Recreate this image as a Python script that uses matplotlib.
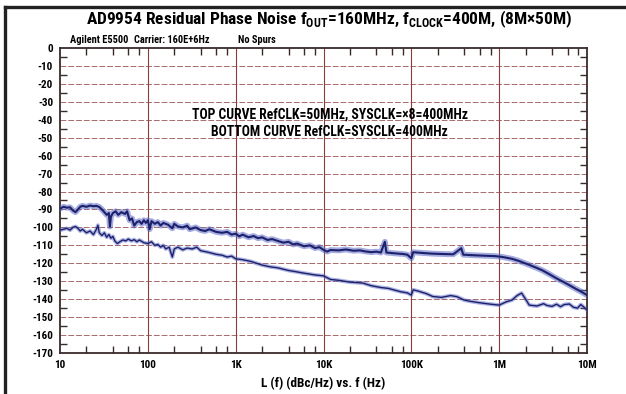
import matplotlib
matplotlib.use("Agg")
import matplotlib.pyplot as plt
from matplotlib.lines import Line2D
from matplotlib.ticker import FixedLocator, NullFormatter
from matplotlib import font_manager

# ---------------- data ----------------
top_freq = [10, 11, 12, 13, 14, 15, 16, 17, 18, 20, 22, 24, 26, 28, 30, 32, 34, 36, 37, 38,
            40, 43, 46, 50, 55, 58, 62, 66, 70, 75, 80, 85, 90, 95, 100, 105, 110, 120, 130,
            140, 150, 170, 190, 200, 220, 250, 280, 300, 350, 400, 450, 500, 600, 700, 800,
            900, 1000, 1100, 1200, 1400, 1600, 1800, 2000, 2300, 2600, 3000, 3500, 4000,
            4500, 5000, 6000, 7000, 8000, 9000, 10000, 11000, 12000, 15000, 18000, 22000,
            26000, 30000, 35000, 40000, 45000, 50000, 52000, 60000, 70000, 80000, 90000,
            100000, 105000, 130000, 170000, 220000, 300000, 370000, 390000, 500000, 700000,
            900000, 1100000, 1400000, 1700000, 2100000, 2600000, 3100000, 3700000, 4500000,
            5300000, 6300000, 7500000, 8500000, 10000000]
top_db = [-89.5, -88.5, -89, -88.8, -90.5, -91.5, -90, -88.5, -88, -88.5, -87.8, -88.2, -88,
          -88.6, -90, -91.5, -93, -92, -99.5, -94, -92, -91, -93, -91.5, -92.5, -91, -96, -95,
          -99, -97, -96.5, -98, -96, -97.5, -96, -101, -96.5, -98, -97, -99, -97.5, -98.5,
          -100.5, -98, -99.5, -100, -99, -101, -100, -101.5, -102, -101, -102.5, -103, -102.5,
          -104, -103.5, -105, -104, -105.5, -104.8, -106, -105.5, -107, -106.5, -107.5, -108.5,
          -108, -109.5, -109, -110.5, -110, -111.5, -111, -112.5, -113.5, -112.6, -112.8,
          -112.3, -113, -112.8, -113.4, -113.8, -113.5, -114, -108, -114, -114.3, -114.6,
          -114.8, -115.2, -117.2, -113.8, -114.2, -114.6, -114.8, -115, -111.6, -115.2, -115.5,
          -115.8, -116, -116.5, -117.5, -118.8, -120.5, -122.3, -123.9, -126, -128.4, -130.2,
          -132.2, -134.3, -135.7, -137.7]

bot_freq = [10, 11, 12, 13, 14, 15, 16, 17, 18, 20, 22, 24, 26, 27, 28, 30, 32, 34, 36, 38,
            40, 42, 45, 48, 52, 56, 60, 65, 70, 75, 80, 90, 100, 110, 120, 130, 140, 150, 160,
            175, 190, 200, 220, 250, 280, 320, 360, 400, 450, 500, 600, 700, 800, 900, 1000,
            1200, 1500, 2000, 2500, 3000, 4000, 5000, 6000, 8000, 10000, 12000, 15000, 20000,
            28000, 35000, 45000, 55000, 65000, 75000, 90000, 100000, 105000, 120000, 150000,
            175000, 220000, 280000, 330000, 400000, 470000, 600000, 800000, 1000000, 1200000,
            1400000, 1600000, 1800000, 2000000, 2200000, 2700000, 3200000, 3500000, 4000000,
            4500000, 5000000, 5500000, 6300000, 7000000, 7800000, 8500000, 9000000, 10000000]
bot_db = [-101.5, -101, -100.5, -101.5, -100, -99.5, -100.5, -102, -101, -103, -102, -104,
          -101, -98.8, -103, -104.5, -103, -105.5, -104, -106, -105, -107.5, -109, -108, -107,
          -107.5, -106.5, -107.5, -106.8, -108, -107, -108.5, -109, -108, -110, -109.5, -111,
          -110, -112, -111, -116.5, -112, -111, -112.5, -111.5, -112, -111, -113, -113.5, -114,
          -115, -115.5, -116.5, -116, -117.5, -118, -119, -121, -122, -122.5, -124, -124.8,
          -125.5, -126.5, -127, -129, -129.5, -130.5, -131, -132.5, -133.5, -134, -135,
          -135.8, -136.5, -137.7, -134.8, -135.5, -137, -138.5, -139, -138, -138.6, -140.5,
          -141.2, -142, -142.8, -143.3, -141.5, -140.5, -138, -136.6, -140, -143.3, -143.8,
          -142.5, -143.5, -144, -142.8, -144.2, -143, -142.7, -144.5, -145, -143, -144, -146]

x_ticks = [10, 100, 1e3, 1e4, 1e5, 1e6, 1e7]
x_labels = ["10", "100", "1K", "10K", "100K", "1M", "10M"]
y_ticks = list(range(0, -171, -10))

# ---------------- fonts ----------------
avail = {f.name for f in font_manager.fontManager.ttflist}
narrow = "DejaVu Sans"
for cand in ["Nimbus Sans Narrow", "Liberation Sans Narrow", "Roboto Condensed",
             "Barlow Semi Condensed", "Asap Condensed", "Archivo Narrow"]:
    if cand in avail:
        narrow = cand
        break
fam = [narrow, "DejaVu Sans"]
plt.rcParams["mathtext.fontset"] = "custom"
plt.rcParams["mathtext.rm"] = narrow + ":bold"
plt.rcParams["mathtext.bf"] = narrow + ":bold"

# ---------------- figure ----------------
fig = plt.figure(figsize=(6.26, 3.94), dpi=100)
ax = fig.add_axes([60 / 626, 1 - 353 / 394, 527 / 626, 305 / 394])

grid_c = "#8a3b3b"
line_dark = "#1d216b"
line_fuzz = "#5a68c8"

ax.plot(top_freq, top_db, color=line_fuzz, lw=4.2, alpha=0.55, solid_joinstyle="round", zorder=3)
ax.plot(top_freq, top_db, color=line_dark, lw=1.5, zorder=4)
ax.plot(bot_freq, bot_db, color=line_fuzz, lw=2.8, alpha=0.5, solid_joinstyle="round", zorder=3)
ax.plot(bot_freq, bot_db, color=line_dark, lw=1.0, zorder=4)

ax.set_xscale("log")
ax.set_xlim(10, 1e7)
ax.set_ylim(-170, 0)

ax.xaxis.set_major_locator(FixedLocator(x_ticks))
ax.set_xticklabels(x_labels, family=fam, fontweight="bold", fontsize=8)
minor_x = []
for dec in [10, 100, 1e3, 1e4, 1e5, 1e6]:
    minor_x += [dec * m for m in (2, 4, 6, 8)]
ax.xaxis.set_minor_locator(FixedLocator(minor_x))
ax.xaxis.set_minor_formatter(NullFormatter())

ax.yaxis.set_major_locator(FixedLocator(y_ticks))
ax.set_yticklabels([str(v) for v in y_ticks], family=fam, fontweight="bold", fontsize=8)
ax.yaxis.set_minor_locator(FixedLocator([v - 5 for v in y_ticks[:-1]]))
ax.yaxis.set_minor_formatter(NullFormatter())

ax.tick_params(which="major", length=0, pad=5)
ax.tick_params(which="minor", direction="in", length=5, width=1.0, color="#3a2b2b",
               top=True, right=True, bottom=True, left=True)

# grid
for xv in x_ticks[1:-1]:
    ax.axvline(xv, color=grid_c, lw=0.8, zorder=1)
for yv in y_ticks[1:-1]:
    ax.axhline(yv, color=grid_c, lw=0.7, ls=(0, (6, 2)), alpha=0.75, zorder=1)

for s in ax.spines.values():
    s.set_color("#3a2b2b")
    s.set_linewidth(1.3)

ax.set_xlabel("L (f) (dBc/Hz) vs. f (Hz)", family=fam, fontweight="bold", fontsize=9.5, labelpad=5)

# annotations
ax.text(0.512, 1 - (115 - 48) / 305, "TOP CURVE RefCLK=50MHz, SYSCLK=\u00d78=400MHz",
        transform=ax.transAxes, ha="center", va="center", family=fam, fontweight="bold", fontsize=9.8)
ax.text(0.512, 1 - (132 - 48) / 305, "BOTTOM CURVE RefCLK=SYSCLK=400MHz",
        transform=ax.transAxes, ha="center", va="center", family=fam, fontweight="bold", fontsize=9.8)

# titles
fig.text(329 / 626, 1 - 19 / 394,
         r"AD9954 Residual Phase Noise f$_{\mathregular{OUT}}$=160MHz, f$_{\mathregular{CLOCK}}$=400M, (8M$\times$50M)",
         ha="center", va="center", family=fam, fontweight="bold", fontsize=12.5)
fig.text(70 / 626, 1 - 40 / 394, "Agilent E5500", ha="left", va="center", family=fam,
         fontweight="bold", fontsize=7.5)
fig.text(134 / 626, 1 - 40 / 394, "Carrier: 160E+6Hz", ha="left", va="center", family=fam,
         fontweight="bold", fontsize=7.5)
fig.text(238 / 626, 1 - 40 / 394, "No Spurs", ha="left", va="center", family=fam,
         fontweight="bold", fontsize=7.5)

# frame border (left and top)
fig.add_artist(Line2D([5 / 626, 5 / 626], [0, 1 - 7 / 394], transform=fig.transFigure,
                      color="#222222", lw=2.4))
fig.add_artist(Line2D([5 / 626, 1], [1 - 7 / 394, 1 - 7 / 394], transform=fig.transFigure,
                      color="#222222", lw=2.4))

fig.savefig("out.png", dpi=100)
